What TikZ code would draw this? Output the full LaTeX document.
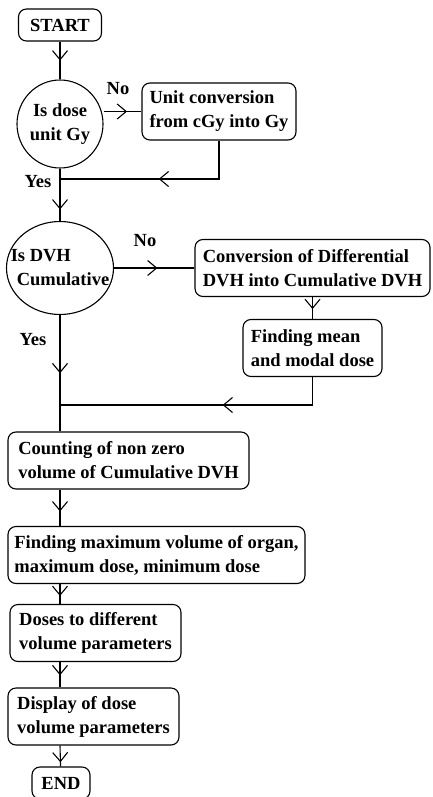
\documentclass[tikz,border=0pt]{standalone}
\usepackage{fontspec}
\setmainfont{Liberation Serif}
\usetikzlibrary{arrows.meta, shapes.geometric, decorations.markings}

\begin{document}
\begin{tikzpicture}[x=1pt, y=-1pt, line width=1.1pt,
        every node/.style={font=\fontsize{18.5}{24}\selectfont\bfseries},
        stepbox/.style={draw, rounded corners=8pt, align=left, inner xsep=5pt, inner ysep=0pt, minimum height=57pt},
        termbox/.style={draw, rounded corners=8pt, inner sep=0pt, minimum height=32pt},
        decision/.style={draw, ellipse, inner sep=0pt},
        flow/.style={postaction={decorate}, decoration={markings,
            mark=at position #1 with {\arrow{Straight Barb[length=9pt, width=15pt]}}}},
        flow/.default=0.5]
        \useasboundingbox (0,0) rectangle (432,797);

        % Start and first test
        \node[termbox, minimum width=83pt] (start) at (60,25) {START};
        \node[decision, minimum width=86pt, minimum height=88pt,
            label={[align=center]center:{Is dose\\unit Gy}}] (d1) at (60,124) {};
        \node[stepbox, minimum width=154pt] (b1) at (219,111.5) {Unit conversion\\from cGy into Gy};
        \coordinate (j1) at (60,179);

        % Second test
        \node[decision, minimum width=107pt, minimum height=93pt,
            label={[align=left]center:{Is DVH\\\hspace*{6pt}Cumulative}}] (d2) at (60,268) {};
        \node[stepbox, minimum width=235pt] (b2) at (312.5,268) {Conversion of Differential\\DVH into Cumulative DVH};
        \node[stepbox, minimum width=139pt] (b3) at (312.5,348) {Finding mean\\and modal dose};
        \coordinate (j2) at (60,405);

        % Main column
        \node[stepbox, minimum width=241pt] (b4) at (128.5,460.5) {Counting of non zero\\volume of Cumulative DVH};
        \node[stepbox, minimum width=297pt] (b5) at (156.5,555) {Finding maximum volume of organ,\\maximum dose, minimum dose};
        \node[stepbox, minimum width=171pt] (b6) at (95.5,633) {Doses to different\\volume parameters};
        \node[stepbox, minimum width=171pt] (b7) at (93.5,716.5) {Display of dose\\volume parameters};
        \node[termbox, minimum width=58pt] (end) at (61,783) {END};

        % Branch labels
        \node[anchor=base] (no1) at (118,95) {No};
        \node[anchor=base] (yes1) at (38,187) {Yes};
        \node[anchor=base] (no2) at (145,246) {No};
        \node[anchor=base] (yes2) at (33,345) {Yes};

        % Connectors
        \draw[flow] (start) -- (d1);
        \draw[flow=0.62] (d1.east |- b1.west) -- (b1.west);
        \draw[flow=0.5] (b1.south) -- (b1.south |- j1) -- (j1);
        \draw[flow=0.78] (d1) -- (d2);
        \draw[flow=0.54] (d2) -- (b2);
        \draw[flow=0.55] (b2) -- (b3);
        \draw[flow=0.42] (b3.south) -- (b3.south |- j2) -- (j2);
        \draw[flow=0.5] (d2) -- (b4.north -| d2);
        \draw[flow=0.6] (b4.south -| d2) -- (b5.north -| d2);
        \draw[flow=0.6] (b5.south -| d2) -- (b6.north -| d2);
        \draw[flow=0.52] (b6.south -| d2) -- (b7.north -| d2);
        \draw[flow=0.8] (b7.south -| d2) -- (end);
\end{tikzpicture}
\end{document}
